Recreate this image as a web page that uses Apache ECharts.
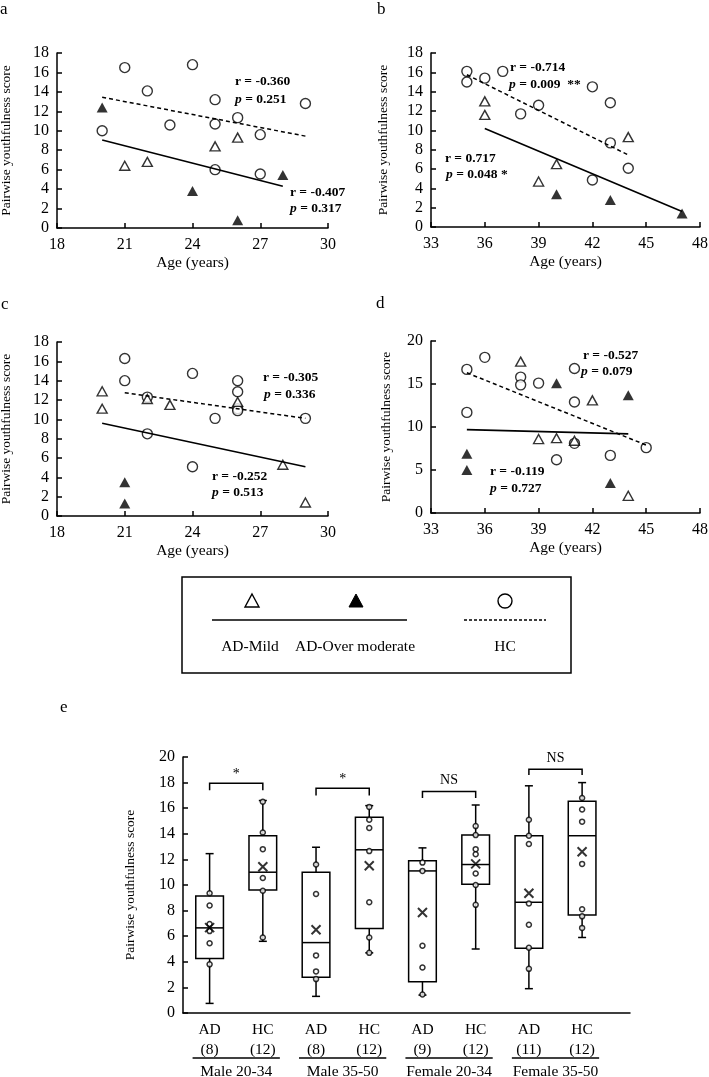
<!DOCTYPE html>
<html>
<head>
<meta charset="utf-8">
<script src="https://cdn.jsdelivr.net/npm/echarts@6.0.0/dist/echarts.min.js"></script>
<style>
  html, body { margin: 0; padding: 0; background: #fff; }
  #main { width: 709px; height: 1077px; }
</style>
</head>
<body>
<div id="main"></div>
<script>
// ---- panel a : Male 20-34 ----
const aHc   = [[20,10.0],[21,16.5],[22,14.1],[23,10.6],[24,16.8],[25,13.2],[25,10.7],[25,6.0],[26,11.35],[27,9.6],[27,5.55],[29,12.8]];
const aMild = [[21,6.4],[22,6.8],[25,8.4],[26,9.3]];
const aMod  = [[20,12.4],[24,3.8],[26,0.8],[28,5.45]];
const aFitHc = [[20,13.45],[29,9.45]];
const aFitAd = [[20,9.05],[28,4.3]];

// ---- panel b : Male 35-50 ----
const bHc   = [[35,16.1],[35,15.0],[36,15.4],[37,16.1],[38,11.7],[39,12.6],[42,14.5],[42,4.86],[43,12.85],[43,8.7],[44,6.07]];
const bMild = [[36,13.0],[36,11.6],[39,4.7],[40,6.5],[44,9.3]];
const bMod  = [[40,3.4],[43,2.8],[47,1.4]];
const bFitHc = [[35,15.75],[44,7.45]];
const bFitAd = [[36,10.2],[47,1.6]];

// ---- panel c : Female 20-34 ----
const cHc   = [[21,16.3],[21,14.0],[22,12.3],[22,8.5],[24,14.75],[24,5.1],[25,10.1],[26,14.0],[26,12.85],[26,11.1],[26,10.9],[29,10.1]];
const cMild = [[20,12.9],[20,11.1],[22,12.1],[23,11.5],[26,11.8],[28,5.3],[29,1.4]];
const cMod  = [[21,3.5],[21,1.3]];
const cFitHc = [[21,12.75],[29,10.1]];
const cFitAd = [[20,9.6],[29,5.1]];

// ---- panel d : Female 35-50 ----
const dHc   = [[35,16.7],[35,11.7],[36,18.1],[38,15.8],[38,14.9],[39,15.1],[40,6.2],[41,16.8],[41,12.9],[41,8.1],[43,6.7],[45,7.6]];
const dMild = [[38,17.6],[39,8.6],[40,8.7],[41,8.4],[42,13.1],[44,2.0]];
const dMod  = [[35,6.9],[35,5.0],[40,15.1],[43,3.5],[44,13.7]];
const dFitHc = [[35,16.3],[45,7.9]];
const dFitAd = [[35,9.7],[44,9.2]];

// ---- panel e : box plots ----
const boxCats = ['AD\n(8)','HC\n(12)','AD\n(8)','HC\n(12)','AD\n(9)','HC\n(12)','AD\n(11)','HC\n(12)'];
const groups = ['Male 20-34','Male 35-50','Female 20-34','Female 35-50'];
// min, q1, median, q3, max
const boxStats = [
  [0.75, 4.25, 6.65, 9.15, 12.45],
  [5.6, 9.6, 11.0, 13.85, 16.6],
  [1.3, 2.8, 5.5, 11.0, 12.95],
  [4.7, 6.6, 12.75, 15.3, 16.2],
  [1.4, 2.45, 11.1, 11.9, 12.9],
  [5.0, 10.05, 11.6, 13.9, 16.25],
  [1.9, 5.05, 8.65, 13.85, 17.75],
  [5.9, 7.65, 13.85, 16.55, 18.0]
];
const boxMeans = [6.67, 11.43, 6.5, 11.5, 7.85, 11.65, 9.35, 12.6];
const boxPoints = [
  [9.35, 8.4, 6.95, 6.4, 5.45, 3.8],
  [16.5, 14.1, 12.8, 10.55, 9.55, 5.9],
  [11.6, 9.3, 4.5, 3.25, 2.65],
  [16.1, 15.1, 14.45, 12.65, 8.65, 5.9, 4.7],
  [11.75, 11.1, 5.25, 3.55, 1.45],
  [14.6, 13.9, 12.8, 12.4, 10.9, 10.0, 8.45],
  [15.1, 13.85, 13.2, 8.55, 6.9, 5.1, 3.45],
  [16.8, 15.9, 14.95, 11.65, 8.1, 7.55, 6.65]
];
// from, to, bracket top, bracket foot, label
const brackets = [
  [1, 2, 17.95, 17.4, '*'],
  [3, 4, 17.55, 17.0, '*'],
  [5, 6, 17.3, 16.8, 'NS'],
  [7, 8, 19.05, 18.6, 'NS']
];

const FONT = 'Liberation Serif';
const myChart = echarts.init(document.getElementById('main'), null, { renderer: 'canvas' });

function xAx(grid, min, max, interval) {
  return {
    type: 'value', gridIndex: grid, min: min, max: max, interval: interval,
    name: 'Age (years)', nameLocation: 'middle', nameGap: 27,
    nameTextStyle: { color: '#000', fontFamily: FONT, fontSize: 15.5 },
    axisLine: { show: true, onZero: false, lineStyle: { color: '#000', width: 1.5 } },
    axisTick: { show: true, inside: true, length: 5, lineStyle: { color: '#000', width: 1.5 } },
    axisLabel: { color: '#000', fontFamily: FONT, fontSize: 16, margin: 9 },
    splitLine: { show: false }
  };
}
function yAx(grid, max, interval, gap) {
  return {
    type: 'value', gridIndex: grid, min: 0, max: max, interval: interval,
    name: 'Pairwise youthfulness score', nameLocation: 'middle', nameGap: gap, nameRotate: 90,
    nameTextStyle: { color: '#000', fontFamily: FONT, fontSize: 13.5 },
    axisLine: { show: true, onZero: false, lineStyle: { color: '#000', width: 1.5 } },
    axisTick: { show: true, inside: true, length: 5, lineStyle: { color: '#000', width: 1.5 } },
    axisLabel: { color: '#000', fontFamily: FONT, fontSize: 16, margin: 8 },
    splitLine: { show: false }
  };
}

function panelSeries(i, hc, mild, mod, fitHc, fitAd) {
  return [
    { type: 'line', xAxisIndex: i, yAxisIndex: i, data: fitHc, symbol: 'none', silent: true,
      lineStyle: { color: '#000', width: 1.5, type: [4, 3] } },
    { type: 'line', xAxisIndex: i, yAxisIndex: i, data: fitAd, symbol: 'none', silent: true,
      lineStyle: { color: '#000', width: 1.6 } },
    { type: 'scatter', xAxisIndex: i, yAxisIndex: i, data: hc, symbol: 'circle', symbolSize: 10,
      itemStyle: { color: '#fff', borderColor: '#000', borderWidth: 1.4 } },
    { type: 'scatter', xAxisIndex: i, yAxisIndex: i, data: mild, symbol: 'triangle', symbolSize: [10, 9],
      itemStyle: { color: '#fff', borderColor: '#000', borderWidth: 1.4 } },
    { type: 'scatter', xAxisIndex: i, yAxisIndex: i, data: mod, symbol: 'triangle', symbolSize: [11, 10],
      itemStyle: { color: '#000' } }
  ];
}

// text helpers for r / p annotations
function note(x, y, txt) {
  return {
    type: 'text', x: x, y: y, silent: true,
    style: {
      text: txt, fill: '#000', fontFamily: FONT, fontSize: 13.5, fontWeight: 'bold',
      align: 'left', verticalAlign: 'middle',
      rich: { i: { fontStyle: 'italic', fontWeight: 'bold', fontFamily: FONT, fontSize: 13.5 } }
    }
  };
}
function letter(x, y, t) {
  return { type: 'text', x: x, y: y, silent: true,
    style: { text: t, fill: '#000', fontFamily: FONT, fontSize: 17, align: 'left', verticalAlign: 'middle' } };
}

let boxPointData = [];
boxPoints.forEach((arr, i) => arr.forEach(v => boxPointData.push([i + 1, v])));
const boxData = boxStats.map((s, i) => [i + 1].concat(s));
const meanData = boxMeans.map((m, i) => [i + 1, m]);
const spanData = groups.map((g, i) => [2 * i + 1, 2 * i + 2]);

const option = {
  animation: false,
  backgroundColor: '#fff',
  grid: [
    { left: 57, top: 53, width: 271, height: 175, outerBoundsMode: 'none' },
    { left: 431, top: 53, width: 269, height: 174, outerBoundsMode: 'none' },
    { left: 57, top: 342, width: 271, height: 174, outerBoundsMode: 'none' },
    { left: 431, top: 341, width: 269, height: 172, outerBoundsMode: 'none' },
    { left: 183, top: 757, width: 447, height: 256, outerBoundsMode: 'none' }
  ],
  xAxis: [
    xAx(0, 18, 30, 3),
    xAx(1, 33, 48, 3),
    xAx(2, 18, 30, 3),
    xAx(3, 33, 48, 3),
    {
      type: 'value', gridIndex: 4, min: 0.5, max: 8.9,
      axisLine: { show: true, onZero: false, lineStyle: { color: '#000', width: 1.5 } },
      axisTick: { show: false },
      splitLine: { show: false },
      axisLabel: {
        customValues: [1, 2, 3, 4, 5, 6, 7, 8],
        color: '#000', fontFamily: FONT, fontSize: 15.5, lineHeight: 20, margin: 7,
        formatter: function (v) { return boxCats[Math.round(v) - 1]; }
      }
    },
    {
      type: 'value', gridIndex: 4, min: 0.5, max: 8.9, position: 'bottom', offset: 44,
      axisLine: { show: false }, axisTick: { show: false }, splitLine: { show: false },
      axisLabel: {
        customValues: [1.5, 3.5, 5.5, 7.5],
        color: '#000', fontFamily: FONT, fontSize: 15.5, margin: 7,
        formatter: function (v) { return groups[Math.round((v - 1.5) / 2)]; }
      }
    }
  ],
  yAxis: [
    yAx(0, 18, 2, 44),
    yAx(1, 18, 2, 41),
    yAx(2, 18, 2, 44),
    yAx(3, 20, 5, 38),
    yAx(4, 20, 2, 46)
  ],
  series: [].concat(
    panelSeries(0, aHc, aMild, aMod, aFitHc, aFitAd),
    panelSeries(1, bHc, bMild, bMod, bFitHc, bFitAd),
    panelSeries(2, cHc, cMild, cMod, cFitHc, cFitAd),
    panelSeries(3, dHc, dMild, dMod, dFitHc, dFitAd),
    [
      {
        type: 'custom', xAxisIndex: 4, yAxisIndex: 4, data: boxData, clip: false, silent: true,
        renderItem: function (params, api) {
          const x = api.value(0);
          const w = api.size([1, 0])[0] * 0.52;
          const pMin = api.coord([x, api.value(1)]);
          const pQ1 = api.coord([x, api.value(2)]);
          const pMed = api.coord([x, api.value(3)]);
          const pQ3 = api.coord([x, api.value(4)]);
          const pMax = api.coord([x, api.value(5)]);
          const c = pMed[0];
          const st = { stroke: '#000', lineWidth: 1.5, fill: null };
          return {
            type: 'group', children: [
              { type: 'line', shape: { x1: c, y1: pMax[1], x2: c, y2: pQ3[1] }, style: st },
              { type: 'line', shape: { x1: c, y1: pQ1[1], x2: c, y2: pMin[1] }, style: st },
              { type: 'line', shape: { x1: c - 4, y1: pMax[1], x2: c + 4, y2: pMax[1] }, style: st },
              { type: 'line', shape: { x1: c - 4, y1: pMin[1], x2: c + 4, y2: pMin[1] }, style: st },
              { type: 'rect', shape: { x: c - w / 2, y: pQ3[1], width: w, height: pQ1[1] - pQ3[1] },
                style: { stroke: '#000', lineWidth: 1.5, fill: '#fff' } },
              { type: 'line', shape: { x1: c - w / 2, y1: pMed[1], x2: c + w / 2, y2: pMed[1] }, style: st }
            ]
          };
        }
      },
      {
        type: 'scatter', xAxisIndex: 4, yAxisIndex: 4, data: boxPointData, symbol: 'circle', symbolSize: 5,
        itemStyle: { color: '#fff', borderColor: '#000', borderWidth: 1.5 }, silent: true
      },
      {
        type: 'scatter', xAxisIndex: 4, yAxisIndex: 4, data: meanData,
        symbol: 'path://M0,0L10,10M10,0L0,10', symbolSize: 9,
        itemStyle: { color: 'transparent', borderColor: '#000', borderWidth: 2 }, silent: true
      },
      {
        type: 'custom', xAxisIndex: 4, yAxisIndex: 4, data: brackets.map(b => b.slice(0, 4)), clip: false, silent: true,
        renderItem: function (params, api) {
          const b = brackets[params.dataIndex];
          const p1 = api.coord([b[0], b[3]]);
          const p2 = api.coord([b[0], b[2]]);
          const p3 = api.coord([b[1], b[2]]);
          const p4 = api.coord([b[1], b[3]]);
          const star = b[4] === '*';
          return {
            type: 'group', children: [
              { type: 'polyline', shape: { points: [p1, p2, p3, p4] },
                style: { stroke: '#000', lineWidth: 1.5, fill: null } },
              { type: 'text', x: (p2[0] + p3[0]) / 2, y: p2[1] - (star ? 2 : 4),
                style: { text: b[4], fill: '#000', fontFamily: FONT, fontSize: 14,
                  align: 'center', verticalAlign: 'bottom' } }
            ]
          };
        }
      },
      {
        type: 'custom', xAxisIndex: 4, yAxisIndex: 4, data: spanData, clip: false, silent: true,
        renderItem: function (params, api) {
          const a = api.coord([api.value(0) - 0.32, 0]);
          const b = api.coord([api.value(1) + 0.32, 0]);
          return { type: 'line', shape: { x1: a[0], y1: a[1] + 45, x2: b[0], y2: a[1] + 45 },
            style: { stroke: '#000', lineWidth: 1.5 } };
        }
      }
    ]
  ),
  graphic: [
    letter(0, 10, 'a'), letter(377, 10, 'b'), letter(1, 305, 'c'), letter(376, 304, 'd'), letter(60, 708, 'e'),
    note(235, 82, 'r = -0.360'), note(235, 100, '{i|p} = 0.251'),
    note(290, 193, 'r = -0.407'), note(290, 209, '{i|p} = 0.317'),
    note(510, 68, 'r = -0.714'), note(509, 85, '{i|p} = 0.009  **'),
    note(445, 159, 'r = 0.717'), note(446, 175, '{i|p} = 0.048 *'),
    note(263, 378, 'r = -0.305'), note(264, 395, '{i|p} = 0.336'),
    note(212, 477, 'r = -0.252'), note(212, 493, '{i|p} = 0.513'),
    note(583, 356, 'r = -0.527'), note(581, 372, '{i|p} = 0.079'),
    note(490, 472, 'r = -0.119'), note(490, 489, '{i|p} = 0.727'),
    // legend box
    { type: 'rect', shape: { x: 182, y: 577, width: 389, height: 96 }, silent: true,
      style: { fill: 'none', stroke: '#000', lineWidth: 1.5 } },
    { type: 'polygon', shape: { points: [[252, 594], [259, 607], [245, 607]] }, silent: true,
      style: { fill: '#fff', stroke: '#000', lineWidth: 1.4 } },
    { type: 'polygon', shape: { points: [[356, 594], [363, 607], [349, 607]] }, silent: true,
      style: { fill: '#000', stroke: '#000', lineWidth: 1 } },
    { type: 'circle', shape: { cx: 505, cy: 601, r: 7 }, silent: true,
      style: { fill: '#fff', stroke: '#000', lineWidth: 1.4 } },
    { type: 'line', shape: { x1: 212, y1: 620, x2: 407, y2: 620 }, silent: true,
      style: { stroke: '#000', lineWidth: 1.6 } },
    { type: 'line', shape: { x1: 464, y1: 620, x2: 546, y2: 620 }, silent: true,
      style: { stroke: '#000', lineWidth: 1.5, lineDash: [3, 2] } },
    { type: 'text', x: 250, y: 647, silent: true,
      style: { text: 'AD-Mild', fill: '#000', fontFamily: FONT, fontSize: 15.5, align: 'center', verticalAlign: 'middle' } },
    { type: 'text', x: 355, y: 647, silent: true,
      style: { text: 'AD-Over moderate', fill: '#000', fontFamily: FONT, fontSize: 15.5, align: 'center', verticalAlign: 'middle' } },
    { type: 'text', x: 505, y: 647, silent: true,
      style: { text: 'HC', fill: '#000', fontFamily: FONT, fontSize: 15.5, align: 'center', verticalAlign: 'middle' } }
  ]
};

myChart.setOption(option);
</script>
</body>
</html>
